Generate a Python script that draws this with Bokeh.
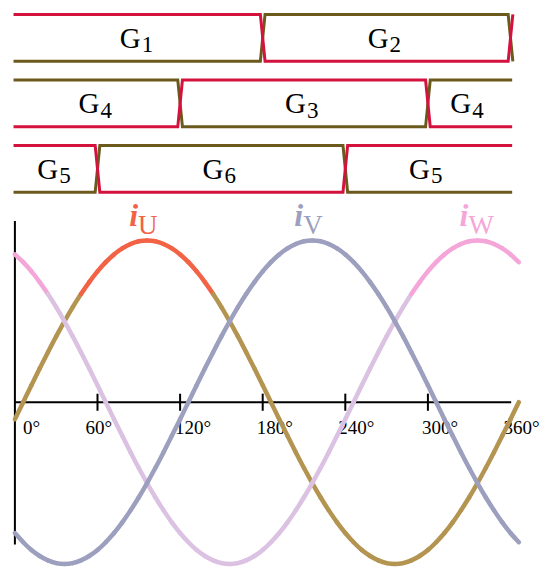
from bokeh.plotting import figure
from bokeh.models import Range1d, ColumnDataSource
from bokeh.embed import file_html
from bokeh.resources import INLINE
from bokeh.core.properties import value

# ---------------- data ----------------
# electrical angle samples (degrees)
angles = list(range(0, 367, 6))

i_u = [-0.105, 0.000, 0.105, 0.208, 0.309, 0.407, 0.500, 0.588, 0.669, 0.743, 0.809, 0.866, 0.914, 0.951,
       0.978, 0.995, 1.000, 0.995, 0.978, 0.951, 0.914, 0.866, 0.809, 0.743, 0.669, 0.588, 0.500, 0.407,
       0.309, 0.208, 0.105, 0.000, -0.105, -0.208, -0.309, -0.407, -0.500, -0.588, -0.669, -0.743, -0.809,
       -0.866, -0.914, -0.951, -0.978, -0.995, -1.000, -0.995, -0.978, -0.951, -0.914, -0.866, -0.809,
       -0.743, -0.669, -0.588, -0.500, -0.407, -0.309, -0.208, -0.105, 0.000]

i_v = [-0.809, -0.866, -0.914, -0.951, -0.978, -0.995, -1.000, -0.995, -0.978, -0.951, -0.914, -0.866,
       -0.809, -0.743, -0.669, -0.588, -0.500, -0.407, -0.309, -0.208, -0.105, 0.000, 0.105, 0.208, 0.309,
       0.407, 0.500, 0.588, 0.669, 0.743, 0.809, 0.866, 0.914, 0.951, 0.978, 0.995, 1.000, 0.995, 0.978,
       0.951, 0.914, 0.866, 0.809, 0.743, 0.669, 0.588, 0.500, 0.407, 0.309, 0.208, 0.105, 0.000, -0.105,
       -0.208, -0.309, -0.407, -0.500, -0.588, -0.669, -0.743, -0.809, -0.866]

i_w = [0.914, 0.866, 0.809, 0.743, 0.669, 0.588, 0.500, 0.407, 0.309, 0.208, 0.105, 0.000, -0.105, -0.208,
       -0.309, -0.407, -0.500, -0.588, -0.669, -0.743, -0.809, -0.866, -0.914, -0.951, -0.978, -0.995,
       -1.000, -0.995, -0.978, -0.951, -0.914, -0.866, -0.809, -0.743, -0.669, -0.588, -0.500, -0.407,
       -0.309, -0.208, -0.105, 0.000, 0.105, 0.208, 0.309, 0.407, 0.500, 0.588, 0.669, 0.743, 0.809,
       0.866, 0.914, 0.951, 0.978, 0.995, 1.000, 0.995, 0.978, 0.951, 0.914, 0.866]

phase_names = ["U", "V", "W"]
phase_peak_angles = [96, 216, 336]

tick_angles = [0, 60, 120, 180, 240, 300, 360]
tick_labels = ["0°", "60°", "120°", "180°", "240°", "300°", "360°"]

# gate signal rows: section boundaries (degrees) and gate numbers
row1_bounds = [0, 180, 360]
row1_gates = ["1", "2"]
row2_bounds = [0, 120, 300, 360]
row2_gates = ["4", "3", "4"]
row3_bounds = [0, 60, 240, 360]
row3_gates = ["5", "6", "5"]

# ---------------- style / layout ----------------
RED = "#d3123e"
BROWN = "#6b5a1c"
U_ORANGE = "#f26244"
U_OLIVE = "#b39450"
V_BLUE = "#9c9fbd"
W_PINK = "#f5a6d8"
W_LILAC = "#dcc2e2"
HIGHLIGHT = 0.65
SERIF = value("Liberation Serif")

row_tops = [2.398, 1.993, 1.588]
row_h = 0.29
row_start, row_end = -1.0, 361.2
slant = 1.7
tick_label_dx = [8, -12, -5, -6, -7, -6, -7]

p = figure(width=550, height=577,
           x_range=Range1d(-10.46, 389.05), y_range=Range1d(-1.0841, 2.4842),
           output_backend="svg", toolbar_location=None,
           x_axis_type=None, y_axis_type=None, min_border=0,
           outline_line_color=None, background_fill_color="white",
           border_fill_color="white")
p.grid.visible = False

# ---------------- gate rows ----------------
def row_lines(bounds, gates, top, bot):
    trans = []
    for k in range(1, len(gates)):
        if gates[k] != gates[k - 1]:
            trans.append(bounds[k])
    if gates[-1] != gates[0]:
        trans.append(bounds[-1])
    lines = {}
    for col, on_top in ((RED, int(gates[0]) % 2 == 1), (BROWN, int(gates[0]) % 2 == 0)):
        xs = [row_start]
        ys = [top if on_top else bot]
        state = on_top
        for t in trans:
            xs.append(t - slant); ys.append(top if state else bot)
            state = not state
            xs.append(t + slant); ys.append(top if state else bot)
        if xs[-1] < row_end:
            xs.append(row_end); ys.append(top if state else bot)
        lines[col] = (xs, ys)
    return lines

rows = [(row1_bounds, row1_gates), (row2_bounds, row2_gates), (row3_bounds, row3_gates)]
gx, gy, gsub = [], [], []
for (bounds, gates), top in zip(rows, row_tops):
    bot = top - row_h
    ln = row_lines(bounds, gates, top, bot)
    for col in (BROWN, RED):
        xs, ys = ln[col]
        p.line(xs, ys, line_color=col, line_width=3, line_join="miter")
    for k, g in enumerate(gates):
        gx.append((bounds[k] + bounds[k + 1]) / 2)
        gy.append(top - row_h / 2)
        gsub.append(g)

gsrc = ColumnDataSource(dict(x=gx, y=gy, g=["G"] * len(gx), sub=gsub))
p.text(x="x", y="y", text="g", source=gsrc, text_font=SERIF, text_font_size="29px",
       text_align="right", text_baseline="alphabetic", x_offset=2, y_offset=0, text_color="black")
p.text(x="x", y="y", text="sub", source=gsrc, text_font=SERIF, text_font_size="23px",
       text_align="left", text_baseline="alphabetic", x_offset=3, y_offset=7, text_color="black")

# ---------------- axes ----------------
p.line([0, 0], [-0.88, 1.12], line_color="black", line_width=2)
p.line([0, 360.5], [0, 0], line_color="black", line_width=2)
inner = tick_angles[1:-1]
p.segment(x0=inner, y0=[-0.053] * len(inner), x1=inner, y1=[0.053] * len(inner),
          line_color="black", line_width=2)
tsrc = ColumnDataSource(dict(x=tick_angles, y=[0] * len(tick_angles), t=tick_labels, dx=tick_label_dx))
p.text(x="x", y="y", text="t", x_offset="dx", source=tsrc, y_offset=25, text_font=SERIF,
       text_font_size="19px", text_align="left", text_baseline="alphabetic", text_color="black")

# ---------------- phase currents (smooth Bezier through the samples) ----------------
def smooth_segments(xs, ys, base, hi, thr):
    n = len(xs)
    d = dict(x0=[], y0=[], x1=[], y1=[], cx0=[], cy0=[], cx1=[], cy1=[], c=[])
    for i in range(n - 1):
        a = max(i - 1, 0)
        b = min(i + 2, n - 1)
        d["x0"].append(xs[i]); d["y0"].append(ys[i])
        d["x1"].append(xs[i + 1]); d["y1"].append(ys[i + 1])
        d["cx0"].append(xs[i] + (xs[i + 1] - xs[a]) / 6)
        d["cy0"].append(ys[i] + (ys[i + 1] - ys[a]) / 6)
        d["cx1"].append(xs[i + 1] - (xs[b] - xs[i]) / 6)
        d["cy1"].append(ys[i + 1] - (ys[b] - ys[i]) / 6)
        on = hi is not None and ys[i] >= thr and ys[i + 1] >= thr
        d["c"].append(hi if on else base)
    return ColumnDataSource(d)

LW = 4.5
for ys, base, hi in ((i_u, U_OLIVE, U_ORANGE), (i_w, W_LILAC, W_PINK), (i_v, V_BLUE, None)):
    src = smooth_segments(angles, ys, base, hi, HIGHLIGHT)
    p.bezier(x0="x0", y0="y0", x1="x1", y1="y1", cx0="cx0", cy0="cy0", cx1="cx1", cy1="cy1",
             source=src, line_color="c", line_width=LW, line_cap="round")

# labels i_U, i_V, i_W
lsrc = ColumnDataSource(dict(x=phase_peak_angles, y=[1.0] * 3, i=["i"] * 3, s=phase_names,
                             c=[U_ORANGE, V_BLUE, W_PINK]))
p.text(x="x", y="y", text="i", source=lsrc, text_color="c", text_font=SERIF,
       text_font_size="32px", text_font_style="bold italic", text_align="right",
       text_baseline="alphabetic", x_offset=-9, y_offset=-25)
p.text(x="x", y="y", text="s", source=lsrc, text_color="c", text_font=SERIF,
       text_font_size="27px", text_align="left", text_baseline="alphabetic",
       x_offset=-9, y_offset=-15)

open("out.html", "w").write(file_html(p, INLINE))
